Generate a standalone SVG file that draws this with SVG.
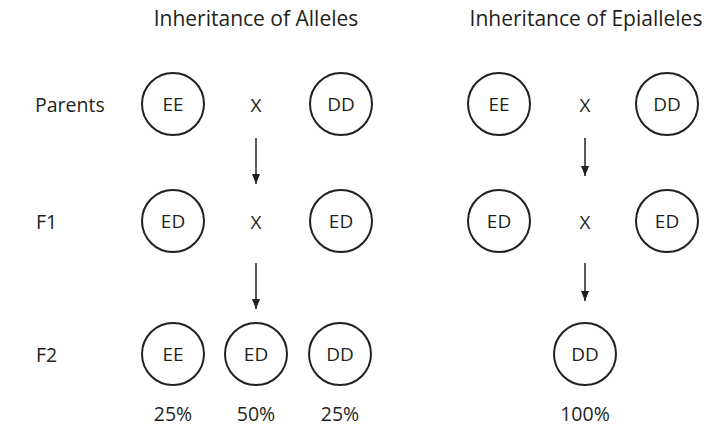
<svg xmlns="http://www.w3.org/2000/svg" width="704" height="426" viewBox="0 0 704 426">
<defs>
<marker id="ah" viewBox="0 0 10 10" refX="10" refY="5" markerWidth="10" markerHeight="10" markerUnits="userSpaceOnUse" orient="auto">
<path d="M0,1 L10,5 L0,9 Z" fill="#231f20"/>
</marker>
</defs>
<style>
text{font-family:"Open Sans","Liberation Sans",sans-serif;fill:#231f20}
.t{font-size:21px;text-anchor:middle}
.r{font-size:19.5px}
.n circle{fill:#fff;stroke:#231f20;stroke-width:2}
.n text{font-size:19px;text-anchor:middle}
.x{font-size:19px;text-anchor:middle}
.p{font-size:19.5px;text-anchor:middle}
.c line{stroke:#231f20;stroke-width:1.5;marker-end:url(#ah)}
</style>
<rect width="704" height="426" fill="#fff"/>
<text class="t" x="256" y="26">Inheritance of Alleles</text>
<text class="t" x="586" y="26">Inheritance of Epialleles</text>
<text class="r" x="35" y="112">Parents</text>
<text class="r" x="36" y="229">F1</text>
<text class="r" x="36" y="362">F2</text>
<g id="a-p-ee" class="n"><circle cx="173" cy="104" r="31"/><text x="173" y="111">EE</text></g>
<g id="a-p-dd" class="n"><circle cx="341" cy="104" r="31"/><text x="341" y="111">DD</text></g>
<g id="a-f1-ed1" class="n"><circle cx="173" cy="221" r="31"/><text x="173" y="228">ED</text></g>
<g id="a-f1-ed2" class="n"><circle cx="341" cy="221" r="31"/><text x="341" y="228">ED</text></g>
<g id="a-f2-ee" class="n"><circle cx="173" cy="354" r="31"/><text x="173" y="361">EE</text></g>
<g id="a-f2-ed" class="n"><circle cx="256" cy="354" r="31"/><text x="256" y="361">ED</text></g>
<g id="a-f2-dd" class="n"><circle cx="340" cy="354" r="31"/><text x="340" y="361">DD</text></g>
<g id="e-p-ee" class="n"><circle cx="499" cy="104" r="31"/><text x="499" y="111">EE</text></g>
<g id="e-p-dd" class="n"><circle cx="667" cy="104" r="31"/><text x="667" y="111">DD</text></g>
<g id="e-f1-ed1" class="n"><circle cx="499" cy="221" r="31"/><text x="499" y="228">ED</text></g>
<g id="e-f1-ed2" class="n"><circle cx="667" cy="221" r="31"/><text x="667" y="228">ED</text></g>
<g id="e-f2-dd" class="n"><circle cx="585" cy="354" r="31"/><text x="585" y="361">DD</text></g>
<text class="x" x="256" y="112">X</text>
<text class="x" x="585" y="112">X</text>
<text class="x" x="256" y="229">X</text>
<text class="x" x="585" y="229">X</text>
<text class="p" x="173" y="421">25%</text>
<text class="p" x="256" y="421">50%</text>
<text class="p" x="340" y="421">25%</text>
<text class="p" x="585" y="421">100%</text>
<g id="connectors" class="c">
<line x1="256" y1="138" x2="256" y2="184"/>
<line x1="256" y1="263" x2="256" y2="309"/>
<line x1="585" y1="138" x2="585" y2="176"/>
<line x1="585" y1="263" x2="585" y2="301"/>
</g>
</svg>
